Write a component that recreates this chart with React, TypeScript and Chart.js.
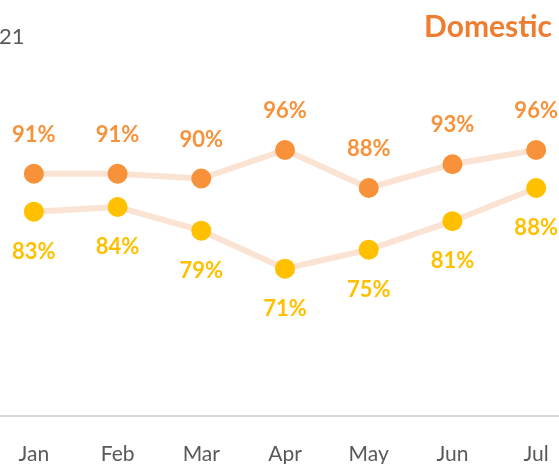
import React, { useEffect, useRef } from "react";
import { Chart, registerables } from "chart.js";

Chart.register(...registerables);

const months = ["Jan", "Feb", "Mar", "Apr", "May", "Jun", "Jul"];
const seriesA = [91, 91, 90, 96, 88, 93, 96];
const seriesB = [83, 84, 79, 71, 75, 81, 88];
const titleText = "Domestic";
const subText = "21";

const ORANGE = "#F7923A";
const YELLOW = "#FFC000";
const LINE = "#FBE3D3";

const labelPlugin = {
  id: "valueLabels",
  afterDatasetsDraw(chart: any) {
    const ctx = chart.ctx;
    ctx.save();
    ctx.font = "bold 22px Lato, 'Open Sans', sans-serif";
    ctx.textAlign = "center";
    ctx.textBaseline = "middle";
    chart.data.datasets.forEach((ds: any, di: number) => {
      const meta = chart.getDatasetMeta(di);
      const above = di === 0;
      ctx.fillStyle = ds.labelColor;
      meta.data.forEach((pt: any, i: number) => {
        const v = ds.data[i];
        ctx.fillText(v + "%", pt.x, pt.y + (above ? -39 : 40));
      });
    });
    ctx.restore();
  },
};

export default function App() {
  const ref = useRef<HTMLCanvasElement>(null);
  useEffect(() => {
    if (!ref.current) return;
    const chart = new Chart(ref.current, {
      type: "line",
      data: {
        labels: months,
        datasets: [
          {
            label: "A",
            data: seriesA,
            borderColor: LINE,
            borderWidth: 6,
            pointRadius: 10,
            pointBackgroundColor: ORANGE,
            pointBorderWidth: 0,
            tension: 0,
            labelColor: ORANGE,
          } as any,
          {
            label: "B",
            data: seriesB,
            borderColor: LINE,
            borderWidth: 6,
            pointRadius: 10,
            pointBackgroundColor: YELLOW,
            pointBorderWidth: 0,
            tension: 0,
            labelColor: YELLOW,
          } as any,
        ],
      },
      options: {
        animation: false,
        responsive: false,
        maintainAspectRatio: false,
        layout: { autoPadding: false, padding: { top: 102, left: 0, right: 0, bottom: 0 } },
        plugins: { legend: { display: false }, tooltip: { enabled: false } },
        scales: {
          x: {
            offset: true,
            grid: { display: false, drawTicks: false },
            border: { display: true, color: "#D9D9D9", width: 2 },
            ticks: {
              color: "#595959",
              padding: 26,
              font: { size: 21, family: "Lato, 'Open Sans', sans-serif" },
            },
          },
          y: { display: false, min: 40, max: 100 },
        },
      },
      plugins: [labelPlugin],
    });
    return () => chart.destroy();
  }, []);
  return (
    <div
      style={{
        position: "fixed",
        left: 0,
        top: 0,
        width: 559,
        height: 464,
        overflow: "hidden",
        background: "#fff",
      }}
    >
      <div style={{ position: "absolute", left: -8, top: 29, width: 586, height: 464 }}>
        <canvas ref={ref} width={586} height={464} style={{ width: 586, height: 464 }} />
      </div>
      <div
        style={{
          position: "absolute",
          left: -1,
          top: 22,
          fontFamily: "Lato, 'Open Sans', sans-serif",
          fontSize: 22,
          color: "#595959",
          lineHeight: "28px",
        }}
      >
        {subText}
      </div>
      <div
        style={{
          position: "absolute",
          right: 7,
          top: 6,
          fontFamily: "Lato, 'Open Sans', sans-serif",
          fontWeight: 700,
          fontSize: 30,
          color: "#ED7D31",
          lineHeight: "38px",
        }}
      >
        {titleText}
      </div>
    </div>
  );
}
